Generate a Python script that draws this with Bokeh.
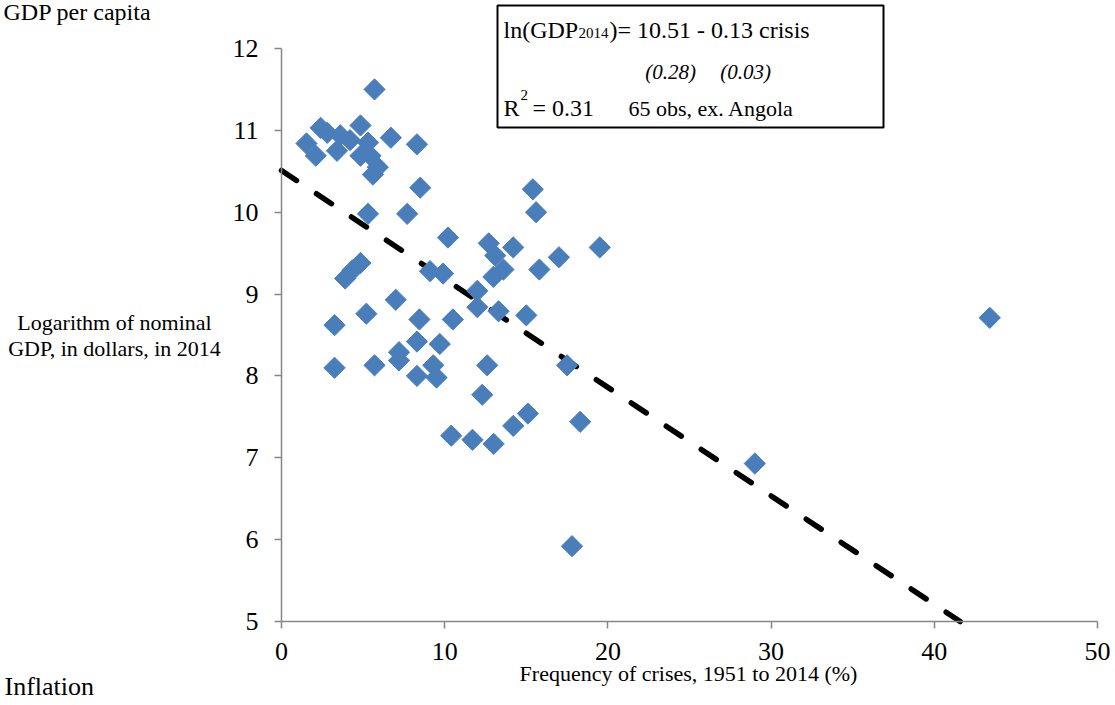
import numpy as np
from bokeh.plotting import figure
from bokeh.models import Range1d, Label, BoxAnnotation, FixedTicker
from bokeh.embed import file_html
from bokeh.resources import INLINE

# ---- data ----
crisis_freq = [5.7, 2.4, 2.8, 4.84, 3.6, 1.53, 4.2, 5.3, 6.7, 8.3,
               2.1, 3.4, 4.84, 5.45, 5.9, 5.6, 8.5, 5.3, 7.7, 10.2,
               4.84, 4.35, 3.9, 9.1, 9.9, 12.0, 7.0, 5.2, 3.25, 8.45,
               10.5, 8.3, 9.7, 7.2, 7.2, 3.25, 5.7, 8.3, 9.3, 9.5,
               12.3, 12.6, 15.4, 15.6, 12.7, 14.2, 19.5, 13.1, 17.0, 13.6,
               12.98, 15.8, 12.0, 13.3, 15.0, 17.5, 15.1, 18.3, 14.2, 10.4,
               11.7, 13.0, 29.0, 17.8, 43.4]
log_gdp = [11.5, 11.03, 10.97, 11.06, 10.94, 10.84, 10.88, 10.85, 10.91, 10.83,
           10.69, 10.75, 10.69, 10.69, 10.55, 10.46, 10.30, 9.98, 9.98, 9.69,
           9.38, 9.29, 9.19, 9.28, 9.25, 9.04, 8.93, 8.76, 8.62, 8.69,
           8.69, 8.42, 8.39, 8.29, 8.19, 8.10, 8.13, 8.00, 8.13, 7.98,
           7.77, 8.13, 10.28, 10.0, 9.62, 9.57, 9.57, 9.47, 9.45, 9.30,
           9.21, 9.30, 8.84, 8.79, 8.74, 8.13, 7.54, 7.44, 7.39, 7.27,
           7.22, 7.17, 6.93, 5.92, 8.71]
fit_intercept = 10.51
fit_slope = -0.1325
x_ticks = [0, 10, 20, 30, 40, 50]
y_ticks = [5, 6, 7, 8, 9, 10, 11, 12]
x_bounds = (0, 50)
y_bounds = (5, 12)

FONT = "Liberation Serif"
BLUE = "#4A7EBB"
AXIS_GRAY = "#868686"
W, H = 1115, 705


# page pixel -> data coordinates (used only to place annotations / ranges)
def dx(px):
    return (px - 281) / 16.32


def dy(py):
    return 12 - (py - 48) / 81.86


p = figure(width=W, height=H, output_backend="svg", toolbar_location=None,
           x_range=Range1d(dx(0), dx(W)), y_range=Range1d(dy(H), dy(0)),
           min_border=0)
p.xgrid.visible = False
p.ygrid.visible = False
p.outline_line_color = None
p.background_fill_color = "white"
p.border_fill_color = "white"

for ax in (p.xaxis[0], p.yaxis[0]):
    ax.axis_line_color = AXIS_GRAY
    ax.axis_line_width = 1.5
    ax.major_tick_line_color = AXIS_GRAY
    ax.major_tick_line_width = 1.5
    ax.major_tick_out = 7
    ax.major_tick_in = 0
    ax.minor_tick_line_color = None
    ax.major_label_text_font = FONT
    ax.major_label_text_font_size = "26px"
    ax.major_label_text_color = "black"
p.xaxis.ticker = FixedTicker(ticks=x_ticks)
p.yaxis.ticker = FixedTicker(ticks=y_ticks)
p.xaxis.bounds = x_bounds
p.yaxis.bounds = y_bounds
p.xaxis.fixed_location = y_bounds[0]
p.yaxis.fixed_location = x_bounds[0]
p.xaxis.major_label_standoff = 14
p.yaxis.major_label_standoff = 16

# regression line
x_end = (y_bounds[0] - fit_intercept) / fit_slope
line_x = [0, x_end]
line_y = [fit_intercept + fit_slope * v for v in line_x]
p.line(line_x, line_y, line_color="black", line_width=5.5,
       line_dash="18 24", line_cap="round")

# points
p.scatter(crisis_freq, log_gdp, marker="square", size=15, angle=np.pi / 4,
          fill_color=BLUE, line_color=BLUE)


def add_text(text, px, cy, size, align="left", style="normal"):
    """Place text so that its capital letters are centred on page row cy."""
    top = cy - 0.56 * size
    p.add_layout(Label(x=dx(px), y=dy(top), text=text, text_font=FONT,
                       text_font_size=f"{size}px", text_align=align,
                       text_baseline="top", text_font_style=style,
                       text_color="black"))


# equation box
p.add_layout(BoxAnnotation(left=dx(497), right=dx(883), top=dy(5), bottom=dy(127),
                           fill_color="white", fill_alpha=1.0,
                           line_color="black", line_alpha=1.0, line_width=2))
add_text("ln(GDP", 503, 30, 24)
add_text("2014", 578, 36, 15)
add_text(")= 10.51 - 0.13 crisis", 609, 30, 24)
add_text("(0.28)", 670, 71, 21, align="center", style="italic")
add_text("(0.03)", 745, 71, 21, align="center", style="italic")
add_text("R", 503, 108, 24)
add_text("2", 520, 98, 15)
add_text("= 0.31", 532, 108, 24)
add_text("65 obs, ex. Angola", 628, 108, 22)

# axis titles
add_text("Logarithm of nominal", 114, 322, 22, align="center")
add_text("GDP, in dollars, in 2014", 114, 348, 22, align="center")
add_text("Frequency of crises, 1951 to 2014 (%)", 688, 673, 22, align="center")

# surrounding document text (cut off in the reference)
add_text("GDP per capita", 3, 12, 24)
add_text("Inflation", 4, 686, 26)

open("out.html", "w").write(file_html(p, INLINE))
